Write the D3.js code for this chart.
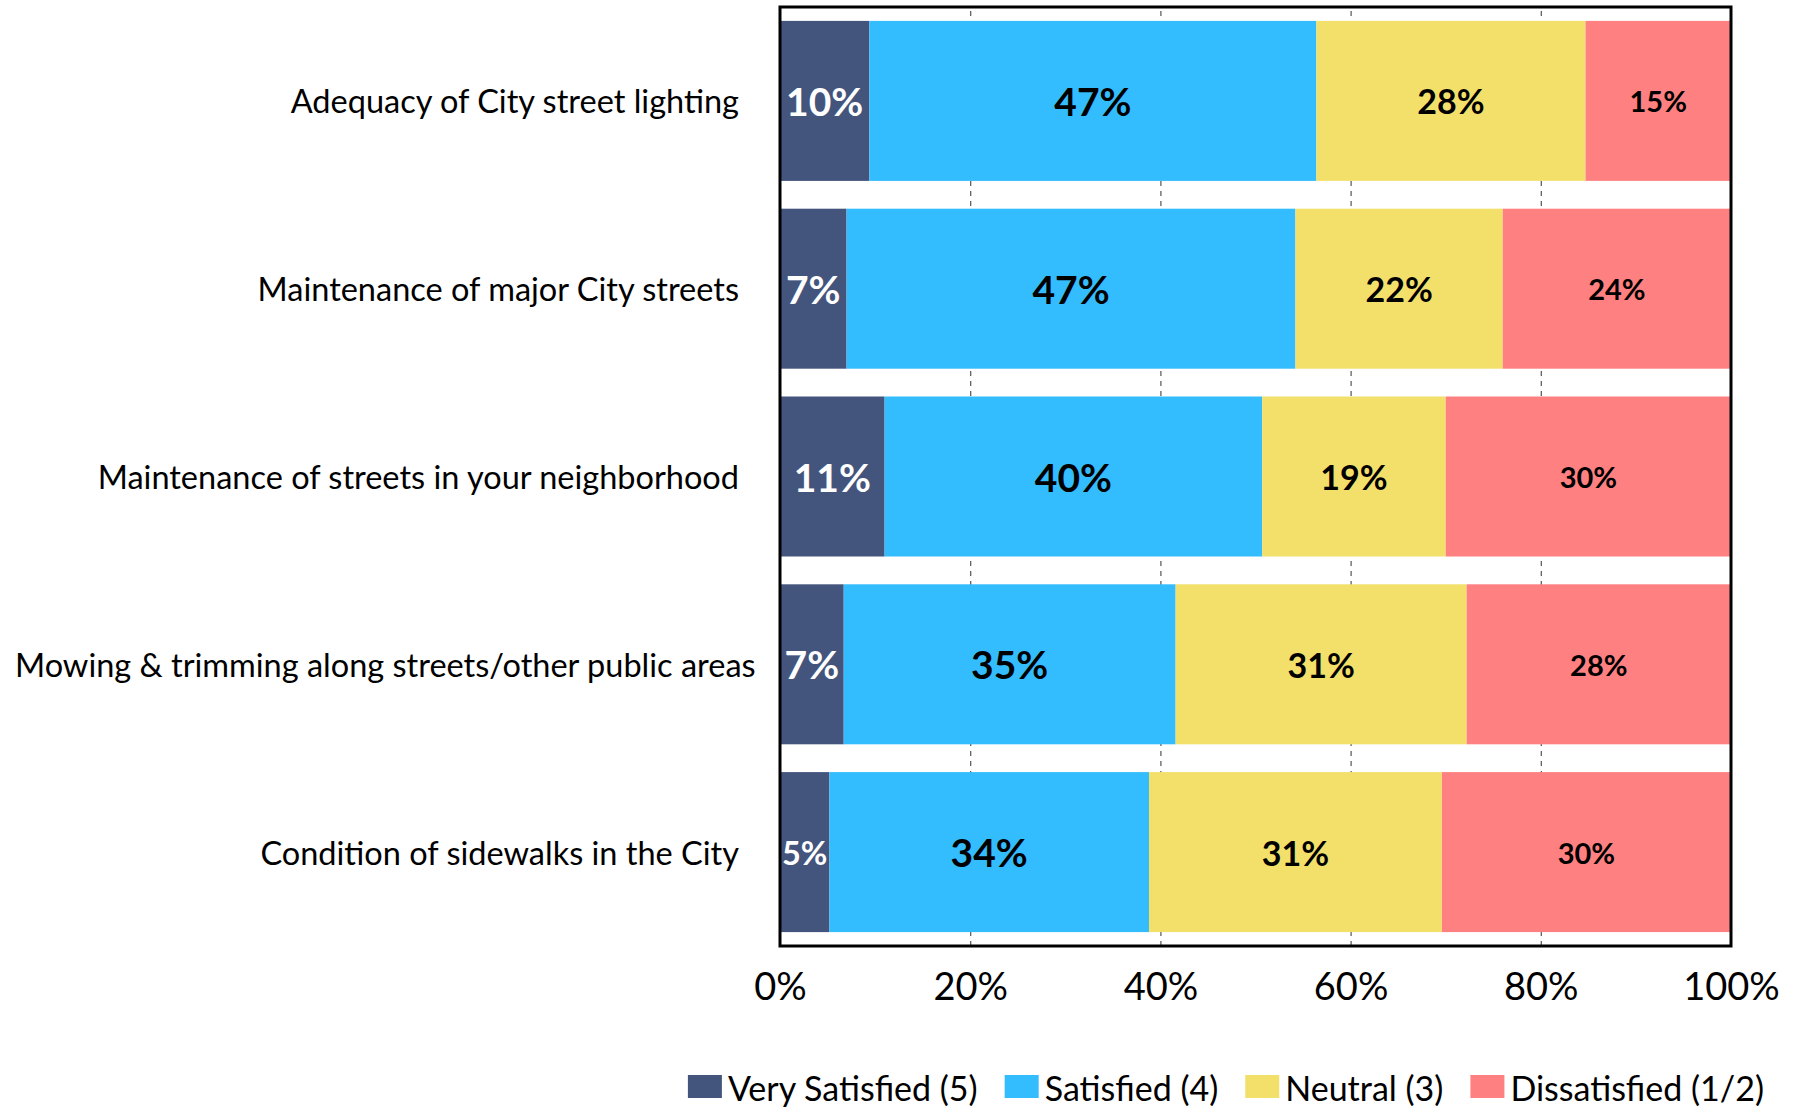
<!DOCTYPE html>
<html>
<head>
<meta charset="utf-8">
<script src="https://cdn.jsdelivr.net/npm/d3@7"></script>
<style>
  html, body { margin: 0; padding: 0; background: #fff; }
  svg { display: block; font-family: Lato, "Open Sans", sans-serif; }
</style>
</head>
<body>
<svg id="chart" width="1796" height="1108"></svg>
<script>
// ---- data ----
const categories = [
  "Adequacy of City street lighting",
  "Maintenance of major City streets",
  "Maintenance of streets in your neighborhood",
  "Mowing & trimming along streets/other public areas",
  "Condition of sidewalks in the City"
];
const seriesNames = ["Very Satisfied (5)", "Satisfied (4)", "Neutral (3)", "Dissatisfied (1/2)"];
const verySatisfied = [9.4, 7.0, 11.0, 6.7, 5.2];
const satisfied     = [47.0, 47.2, 39.7, 34.9, 33.6];
const neutral       = [28.3, 21.8, 19.3, 30.6, 30.8];
const dissatisfied  = [15.3, 24.0, 30.0, 27.8, 30.4];
const verySatisfiedLabels = ["10%", "7%", "11%", "7%", "5%"];
const satisfiedLabels     = ["47%", "47%", "40%", "35%", "34%"];
const neutralLabels       = ["28%", "22%", "19%", "31%", "31%"];
const dissatisfiedLabels  = ["15%", "24%", "30%", "28%", "30%"];
const xTicks = [0, 20, 40, 60, 80, 100];

// ---- styles ----
const colors = ["#44557D", "#33BDFF", "#F3E06B", "#FF8080"];
const labelColors = ["#ffffff", "#000000", "#000000", "#000000"];
const labelSizes = [39, 39, 34, 29];

const seriesValues = [verySatisfied, satisfied, neutral, dissatisfied];
const seriesLabels = [verySatisfiedLabels, satisfiedLabels, neutralLabels, dissatisfiedLabels];

const svg = d3.select("#chart");
const plot = { left: 780, right: 1731, top: 7, bottom: 946 };

const x = d3.scaleLinear().domain([0, 100]).range([plot.left, plot.right]);
const y = d3.scaleBand().domain(categories).range([plot.top, plot.bottom])
  .paddingInner(0.148).paddingOuter(0.074);

// gridlines
const grid = svg.append("g")
  .attr("transform", `translate(0,${plot.bottom})`)
  .call(d3.axisBottom(x).tickValues(xTicks.filter(t => t > 0 && t < 100))
    .tickSize(-(plot.bottom - plot.top)).tickFormat(""));
grid.select(".domain").remove();
grid.selectAll(".tick line")
  .attr("stroke", "#555").attr("stroke-width", 1.2).attr("stroke-dasharray", "5,5");

// stacked data
const rows = categories.map((c, i) => {
  let acc = 0;
  return seriesValues.map((vals, s) => {
    const d = { cat: c, s, x0: acc, x1: acc + vals[i], label: seriesLabels[s][i] };
    acc += vals[i];
    return d;
  });
});

const segs = rows.flat();
svg.append("g").selectAll("rect").data(segs).join("rect")
  .attr("x", d => x(d.x0))
  .attr("width", d => x(d.x1) - x(d.x0))
  .attr("y", d => y(d.cat))
  .attr("height", y.bandwidth())
  .attr("fill", d => colors[d.s]);

// value labels
const lbl = svg.append("g").selectAll("text").data(segs).join("text")
  .attr("x", d => (x(d.x0) + x(d.x1)) / 2)
  .attr("y", d => y(d.cat) + y.bandwidth() / 2)
  .attr("text-anchor", "middle")
  .attr("dominant-baseline", "central")
  .attr("font-weight", "bold")
  .attr("font-size", d => labelSizes[d.s])
  .attr("fill", d => labelColors[d.s])
  .text(d => d.label);
// shrink labels that do not fit their segment
lbl.each(function(d) {
  const w = this.getComputedTextLength();
  const avail = x(d.x1) - x(d.x0) - 4;
  if (w > avail) d3.select(this).attr("font-size", labelSizes[d.s] * avail / w);
});

// frame
svg.append("rect")
  .attr("x", plot.left).attr("y", plot.top)
  .attr("width", plot.right - plot.left).attr("height", plot.bottom - plot.top)
  .attr("fill", "none").attr("stroke", "#000").attr("stroke-width", 3);

// x tick labels
const xAxis = svg.append("g")
  .attr("transform", `translate(0,${plot.bottom})`)
  .call(d3.axisBottom(x).tickValues(xTicks).tickSize(0).tickPadding(27).tickFormat(d => d + "%"));
xAxis.select(".domain").remove();
xAxis.selectAll("text")
  .attr("font-family", "Lato, 'Open Sans', sans-serif")
  .attr("font-size", 38).attr("fill", "#000");

// category labels
const catG = svg.append("g");
catG.selectAll("text").data(categories).join("text")
  .attr("y", d => y(d) + y.bandwidth() / 2)
  .attr("dominant-baseline", "central")
  .attr("text-anchor", "end")
  .attr("font-size", 32.5)
  .attr("fill", "#000")
  .text(d => d)
  .each(function() {
    const w = this.getComputedTextLength();
    d3.select(this).attr("x", Math.max(739, 15 + w));
  });

// legend
const legend = svg.append("g");
const items = legend.selectAll("g").data(seriesNames).join("g");
items.append("rect").attr("width", 34).attr("height", 23).attr("y", 1075)
  .attr("fill", (d, i) => colors[i]);
items.append("text").attr("y", 1087).attr("dominant-baseline", "central")
  .attr("font-size", 34).attr("fill", "#000").text(d => d);
const widths = [];
items.each(function() { widths.push(this.querySelector("text").getComputedTextLength()); });
const total = d3.sum(widths, w => 34 + 6 + w) + 27 * (widths.length - 1);
let cx = 1764 - total;
items.each(function(d, i) {
  const g = d3.select(this);
  g.select("rect").attr("x", cx);
  g.select("text").attr("x", cx + 40);
  cx += 40 + widths[i] + 27;
});
</script>
</body>
</html>
